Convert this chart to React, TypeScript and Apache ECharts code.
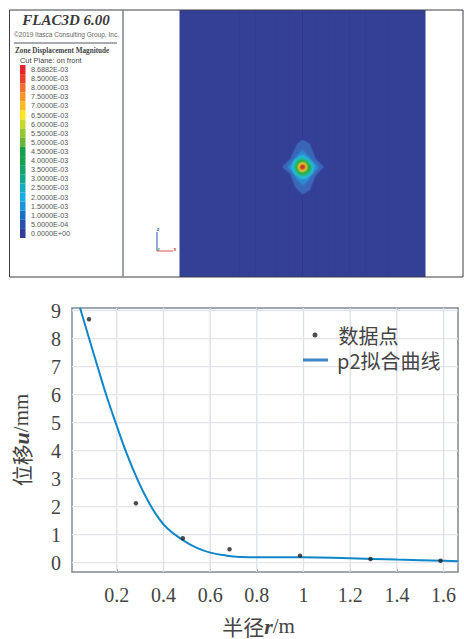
import React, { useEffect, useRef } from "react";
import * as echarts from "echarts";

const radiusTicks = [0.2, 0.4, 0.6, 0.8, 1, 1.2, 1.4, 1.6];
const displacementTicks = [0, 1, 2, 3, 4, 5, 6, 7, 8, 9];
const measured = [[0.081, 8.69], [0.282, 2.12], [0.483, 0.87], [0.683, 0.48], [0.985, 0.25], [1.287, 0.13], [1.587, 0.07]];
const fitted = [[0.0425, 9.1], [0.078, 8.1], [0.114, 7.1], [0.157, 5.93], [0.2, 4.88], [0.243, 3.88], [0.286, 3.02], [0.329, 2.28], [0.372, 1.68], [0.415, 1.24], [0.483, 0.81], [0.543, 0.53], [0.605, 0.35], [0.672, 0.25], [0.73, 0.205], [0.8, 0.19], [1, 0.19], [1.2, 0.155], [1.4, 0.11], [1.6, 0.07], [1.663, 0.05]];

const colorbarLabels = ["8.6882E-03", "8.5000E-03", "8.0000E-03", "7.5000E-03", "7.0000E-03", "6.5000E-03", "6.0000E-03", "5.5000E-03", "5.0000E-03", "4.5000E-03", "4.0000E-03", "3.5000E-03", "3.0000E-03", "2.5000E-03", "2.0000E-03", "1.5000E-03", "1.0000E-03", "5.0000E-04", "0.0000E+00"];
const colorbarColors = ["#e6262c", "#ea3f2a", "#f0702c", "#f4952a", "#fabb20", "#fbe61e", "#c6d82c", "#96c632", "#6cb53c", "#17a04a", "#17a24e", "#16a468", "#15a78e", "#14aec0", "#12b0e0", "#1a95d8", "#1a6fc2", "#2650ab", "#2f3c98"];

// Contour outlines of the displacement field, model units around the cavity centre.
const contourColors = ["#3b66b8", "#2f88d0", "#25b7dc", "#25bc9a", "#1fa94a", "#8cc63c", "#e6dc30", "#ef8a2c", "#b8402c"];
const contour0 = [[0, 27], [7, 23], [13, 8], [21, 0], [13, -8], [7, -23], [0, -27], [-7, -20], [-12, -7], [-20, 0], [-12, 8], [-5, 23]];
const contour1 = [[0, 17], [5, 11], [10, 6], [16, 0], [9, -7], [5, -14], [0, -18], [-5, -13], [-9, -6], [-15, 0], [-9, 6], [-5, 11]];
const contour2 = [[0, 12], [6, 8], [12, 1], [10, -6], [4, -11], [-1, -12], [-8, -7], [-11, -1], [-9, 6], [-4, 10]];
const contour3 = [[0, 9], [6, 6], [9, 1], [8, -5], [3, -9], [-2, -9], [-7, -5], [-8, 0], [-6, 5], [-3, 8]];
const contour4 = [[0, 7], [5, 5], [8, 0], [7, -4], [2, -7], [-3, -7], [-6, -3], [-7, 1], [-4, 6]];
const contour5 = [[0, 5], [3, 4], [5, 0], [4, -3], [1, -5], [-2, -5], [-4, -2], [-5, 1], [-3, 4]];
const contour6 = [[0, 4], [3, 3], [4, 0], [3, -3], [0, -4], [-3, -3], [-4, 0], [-3, 2]];
const contour7 = [[0, 3], [3, 2], [3, -1], [1, -3], [-2, -3], [-3, -1], [-2, 2]];
const contour8 = [[0, 2], [2, 1], [2, -1], [0, -2], [-2, -1], [-2, 1]];
const contours = [contour0, contour1, contour2, contour3, contour4, contour5, contour6, contour7, contour8];
const meshStripes = [-63, -47, -27, -13, 0, 13, 27, 47, 63, 85];

const CJK = '"Noto Sans CJK SC", "Liberation Serif", serif';
const SERIF = '"Liberation Serif", serif';
const SANS = '"Liberation Sans", sans-serif';
const INK = "#444444";
const FRAME = "#7f8a92";
const X_MIN = 0.0082;
const X_MAX = 1.6618;
const Y_MIN = -0.333;
const Y_MAX = 9.09;

const richAxisName = {
  cjk: { fontFamily: CJK, fontSize: 21, lineHeight: 22, color: INK },
  ital: { fontFamily: SERIF, fontSize: 22, lineHeight: 22, fontStyle: "italic", fontWeight: "bold", color: INK },
  unit: { fontFamily: SERIF, fontSize: 21, lineHeight: 22, color: INK },
};

export default function App() {
  const ref = useRef<HTMLDivElement>(null);
  useEffect(() => {
    const chart = echarts.init(ref.current!, null, { renderer: "svg" });
    const gridLineData = [
      ...radiusTicks.map((v) => [v, 0]),
      ...displacementTicks.map((v) => [v, 1]),
    ];
    const option: any = {
      animation: false,
      backgroundColor: "#ffffff",
      grid: [
        { left: 72, top: 308, width: 386, height: 264, show: false },
        { left: 179.5, top: 10, width: 246, height: 267, show: true, backgroundColor: "#343f96", borderWidth: 0 },
        { left: 20, top: 65, width: 5.5, height: 173, show: false },
      ],
      xAxis: [
        {
          type: "value", gridIndex: 0, min: X_MIN, max: X_MAX, position: "bottom",
          name: "{cjk|半径}{ital|r}{unit|/m}", nameLocation: "middle", nameGap: 43,
          nameTextStyle: { rich: richAxisName, padding: [0, 13, 0, 0] },
          splitLine: { show: false },
          axisLine: { onZero: false, lineStyle: { color: FRAME, width: 1.5 } },
          axisTick: { show: true, inside: true, length: 3, customValues: radiusTicks, lineStyle: { color: FRAME, width: 1 } },
          axisLabel: { customValues: radiusTicks, margin: 13, fontFamily: SERIF, fontSize: 20, color: INK, formatter: (v: number) => String(v) },
        },
        {
          type: "value", gridIndex: 0, min: X_MIN, max: X_MAX, position: "top",
          splitLine: { show: false },
          axisLine: { onZero: false, lineStyle: { color: FRAME, width: 1.5 } },
          axisTick: { show: true, inside: true, length: 3, customValues: radiusTicks, lineStyle: { color: FRAME, width: 1 } },
          axisLabel: { show: false },
        },
        { type: "value", gridIndex: 1, min: -123, max: 123, show: false },
        { type: "value", gridIndex: 2, min: 0, max: 1, show: false },
      ],
      yAxis: [
        {
          type: "value", gridIndex: 0, min: Y_MIN, max: Y_MAX, position: "left",
          name: "{cjk|位移}{ital|u}{unit|/mm}", nameLocation: "middle", nameGap: 40, nameRotate: 90,
          nameTextStyle: { rich: richAxisName },
          splitLine: { show: false },
          axisLine: { onZero: false, lineStyle: { color: FRAME, width: 1.5 } },
          axisTick: { show: true, inside: true, length: 3, customValues: displacementTicks, lineStyle: { color: FRAME, width: 1 } },
          axisLabel: { customValues: displacementTicks, margin: 11, fontFamily: SERIF, fontSize: 20, color: INK },
        },
        {
          type: "value", gridIndex: 0, min: Y_MIN, max: Y_MAX, position: "right",
          splitLine: { show: false },
          axisLine: { onZero: false, lineStyle: { color: FRAME, width: 1.5 } },
          axisTick: { show: true, inside: true, length: 3, customValues: displacementTicks, lineStyle: { color: FRAME, width: 1 } },
          axisLabel: { show: false },
        },
        { type: "value", gridIndex: 1, min: -110, max: 157, show: false },
        {
          type: "category", gridIndex: 2, inverse: true, position: "right", data: colorbarLabels,
          axisLine: { show: false }, axisTick: { show: false },
          axisLabel: { margin: 5.5, fontFamily: SANS, fontSize: 7.2, color: "#555555", interval: 0 },
        },
      ],
      legend: [
        {
          data: [{ name: "数据点", icon: "circle" }], selectedMode: false, left: 307.5, top: 320,
          itemWidth: 5, itemHeight: 5, padding: [5, 5, 0, 5],
          textStyle: { fontFamily: CJK, fontSize: 20, lineHeight: 20, color: INK, padding: [0, 0, 0, 16] },
        },
        {
          data: [{ name: "p2拟合曲线", icon: "rect" }], selectedMode: false, left: 298, top: 345,
          itemWidth: 25, itemHeight: 3, itemStyle: { color: "#3d85c6" }, padding: [5, 5, 0, 5],
          textStyle: { fontFamily: CJK, fontSize: 20, lineHeight: 20, color: INK, padding: [0, 0, 0, 4] },
        },
      ],
      series: [
        {
          name: "坐标网格", type: "custom", xAxisIndex: 0, yAxisIndex: 0, silent: true, z: 1,
          coordinateSystem: "cartesian2d", data: gridLineData, clip: true,
          encode: { x: 0, y: 1 },
          renderItem: (_p: any, api: any) => {
            const v = api.value(0);
            const horizontal = api.value(1) === 1;
            const a = horizontal ? api.coord([X_MIN, v]) : api.coord([v, Y_MIN]);
            const b = horizontal ? api.coord([X_MAX, v]) : api.coord([v, Y_MAX]);
            return {
              type: "line",
              shape: { x1: a[0], y1: a[1], x2: b[0], y2: b[1] },
              style: { stroke: horizontal ? "#e4e5ec" : "#dcdee8", lineWidth: 1.3 },
            };
          },
        },
        {
          name: "数据点", type: "scatter", xAxisIndex: 0, yAxisIndex: 0, data: measured,
          symbol: "circle", symbolSize: 4.5, itemStyle: { color: "#222222" }, z: 5, silent: true,
        },
        {
          name: "p2拟合曲线", type: "line", xAxisIndex: 0, yAxisIndex: 0, data: fitted, smooth: 0.5,
          showSymbol: false, symbol: "none", clip: true, z: 4, silent: true,
          lineStyle: { color: "#0f86c8", width: 2 }, itemStyle: { color: "#3d85c6" },
        },
        {
          name: "网格", type: "custom", xAxisIndex: 2, yAxisIndex: 2, silent: true, z: 2,
          coordinateSystem: "cartesian2d", data: meshStripes.map((v) => [v]),
          encode: { x: 0 },
          renderItem: (_p: any, api: any) => {
            const a = api.coord([api.value(0), -110]);
            const b = api.coord([api.value(0), 157]);
            return { type: "line", shape: { x1: a[0], y1: a[1], x2: b[0], y2: b[1] }, style: { stroke: "#2f3488", lineWidth: 1, opacity: api.value(0) === 0 ? 0.8 : 0.25 } };
          },
        },
        {
          name: "位移云图", type: "custom", xAxisIndex: 2, yAxisIndex: 2, silent: true, z: 3,
          coordinateSystem: "cartesian2d", data: contours.map((_c, i) => [i]),
          encode: { x: 0 },
          clip: false,
          renderItem: (p: any, api: any) => {
            const i = p.dataIndex;
            return {
              type: "polygon",
              shape: { points: contours[i].map((pt) => api.coord(pt)) },
              style: { fill: contourColors[i], shadowBlur: i === 0 ? 2 : 3, shadowColor: contourColors[i] },
            };
          },
        },
        {
          name: "色标", type: "bar", xAxisIndex: 3, yAxisIndex: 3, barWidth: "100%", silent: true,
          data: colorbarColors.map((c) => ({ value: 1, itemStyle: { color: c } })),
        },
      ],
      graphic: [
        { type: "rect", shape: { x: 9.5, y: 10, width: 453.5, height: 267 }, style: { fill: "none", stroke: "#3a3f44", lineWidth: 1 }, z: 20 },
        { type: "line", shape: { x1: 123, y1: 10, x2: 123, y2: 277 }, style: { stroke: "#78828e", lineWidth: 1.5 }, z: 20 },
        { type: "text", x: 66, y: 20, style: { text: "FLAC3D 6.00", font: 'italic bold 15px "Liberation Serif", serif', fill: "#3a3a3a", textAlign: "center", textVerticalAlign: "middle" }, z: 20 },
        { type: "text", x: 66.5, y: 34, style: { text: "©2019 Itasca Consulting Group, Inc.", font: '6.5px "Liberation Sans", sans-serif', fill: "#666666", textAlign: "center", textVerticalAlign: "middle" }, z: 20 },
        { type: "line", shape: { x1: 14, y1: 43, x2: 117, y2: 43 }, style: { stroke: "#8a8f96", lineWidth: 1.5 }, z: 20 },
        { type: "text", x: 15, y: 51, style: { text: "Zone Displacement Magnitude", font: 'bold 7.2px "Liberation Serif", serif', fill: "#444444", textVerticalAlign: "middle" }, z: 20 },
        { type: "text", x: 20, y: 60, style: { text: "Cut Plane: on front", font: '7.4px "Liberation Sans", sans-serif', fill: "#444444", textVerticalAlign: "middle" }, z: 20 },
        { type: "line", shape: { x1: 157, y1: 251, x2: 157, y2: 232 }, style: { stroke: "#3050b0", lineWidth: 1 }, z: 20 },
        { type: "line", shape: { x1: 157, y1: 251, x2: 173, y2: 251 }, style: { stroke: "#e0504a", lineWidth: 1 }, z: 20 },
        { type: "text", x: 158, y: 229, style: { text: "z", font: 'bold 5px "Liberation Sans", sans-serif', fill: "#3050b0", textAlign: "center", textVerticalAlign: "middle" }, z: 20 },
        { type: "text", x: 175, y: 249, style: { text: "x", font: 'bold 5px "Liberation Sans", sans-serif', fill: "#d04040", textAlign: "center", textVerticalAlign: "middle" }, z: 20 },
        { type: "text", x: 158.5, y: 248, style: { text: "y", font: 'bold 4px "Liberation Sans", sans-serif', fill: "#30a050", textAlign: "center", textVerticalAlign: "middle" }, z: 20 },
      ],
    };
    chart.setOption(option);
    return () => chart.dispose();
  }, []);
  return <div ref={ref} style={{ position: "absolute", left: 0, top: 0, width: 464, height: 639 }} />;
}
